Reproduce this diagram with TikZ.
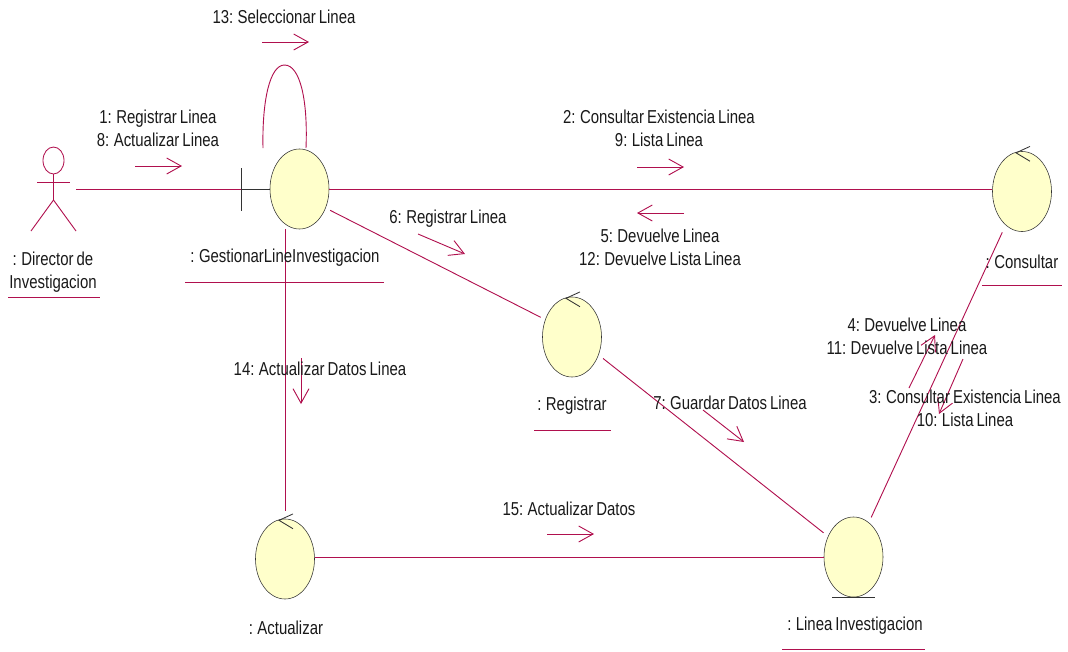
\documentclass[tikz,border=0pt]{standalone}
\usepackage{fontspec}
\setmainfont[FakeStretch=0.8,WordSpace=0.72]{Liberation Sans}
\usetikzlibrary{shapes.geometric,arrows.meta}
\definecolor{umlred}{HTML}{B0104E}
\definecolor{umlfill}{HTML}{FFFFCB}
\newcommand{\CTRLTICK}[1]{
	\coordinate (#1tip) at ([xshift=-.15cm,yshift=-.04cm]#1.north);
	\draw[umlbody] ([xshift=.2cm,yshift=.12cm]#1.north) -- (#1tip) -- ([xshift=.2cm,yshift=-.25cm]#1.north);
}
\newcommand{\MSGARROW}[3]{
	\coordinate (#1from) at #2;
	\coordinate (#1to) at #3;
	\draw[msg arrow] (#1from) -- (#1to);
}
\tikzset{
	umlobject/.style={
		draw=black!80,
		fill=umlfill,
		ellipse,
		inner sep =+ 0pt,
		minimum width = 1.475cm,
		minimum height = 2cm
	},
	umlbody/.style={draw=black!80,line width=.6pt},
	umlline/.style={draw=umlred,line width=.65pt},
	msg arrow/.style={umlline,-{Straight Barb[length=.36cm,width=.4cm,line width=.65pt]}},
	umltext/.style={inner sep=0pt,font=\fontsize{13.3}{16.3}\selectfont,align=center,text=black!90}
}
\begin{document}
\begin{tikzpicture}[x=.025cm,y=-.025cm]
\useasboundingbox (0,0) rectangle (1068,652);

\node[umlobject] (gestion)    at (299.5,189) {};
\node[umlobject] (consultar)  at (1022,191.5) {};
\node[umlobject] (registrar)  at (572,337) {};
\node[umlobject] (actualizar) at (285,559) {};
\node[umlobject] (lineaInv)   at (853.5,557) {};

\CTRLTICK{consultar}
\CTRLTICK{registrar}
\CTRLTICK{actualizar}

% actor
\node[draw=umlred,line width=.6pt,ellipse,inner sep=0pt,minimum width=.525cm,minimum height=.675cm] (director) at (53.5,160.5) {};
\coordinate (directorHip) at (53.5,200);
\coordinate (directorHand) at (76,189);
\draw[umlline] (director.south) -- (directorHip);
\draw[umlline] (37,182) -- (70,182);
\draw[umlline] (31,231) -- (directorHip) -- (76,231);

% boundary and entity marks
\coordinate (gestionTick) at (241,189);
\draw[umlbody] (241,168) -- (241,211);
\draw[umlbody] (gestionTick) -- (gestion.west);
\draw[umlbody] (lineaInv.south west |- lineaInv.south) -- (lineaInv.south east |- lineaInv.south);

\draw[umlline] (directorHand) -- (gestionTick);
\draw[umlline] (gestion.east) -- (gestion.east -| consultar.west);
\draw[umlline,shorten <=3.5pt,shorten >=3.5pt] (gestion.-36) -- (registrar.147);
\draw[umlline,shorten <=4pt,shorten >=4pt] (registrar.-34) -- (lineaInv.141.5);
\draw[umlline,shorten <=4pt,shorten >=5.6pt] (lineaInv.66) -- (consultar.-116.3);
\draw[umlline,shorten >=5.5pt] (actualizar.north |- gestion.south) -- (actualizar.north);
\draw[umlline] (actualizar.east |- lineaInv.west) -- (lineaInv.west);
\draw[umlline] (263,148) .. controls (262,100) and (270,65) .. (284.5,65) .. controls (300,65) and (308,100) .. (306,148);

\MSGARROW{m13}{(262,42)}{(309,42)}
\MSGARROW{m1}{(135,166)}{(182,166)}
\MSGARROW{m2}{(637,167)}{(684,167)}
\MSGARROW{m5}{(684,213)}{(637,213)}
\MSGARROW{m6}{(418,234)}{(465,254)}
\MSGARROW{m14}{(301,358)}{(301,404)}
\MSGARROW{m7}{(703,410)}{(744,442)}
\MSGARROW{m15}{(547,534)}{(594,534)}
\MSGARROW{m4}{(909,388)}{(935,335)}
\MSGARROW{m3}{(963,359)}{(939,414)}

\node[umltext] (l13) at (284,17)    {13: Seleccionar Linea};
\node[umltext] (l1)  at (158,128.5) {1: Registrar Linea\\8: Actualizar Linea};
\node[umltext] (l2)  at (659,128.5) {2: Consultar Existencia Linea\\9: Lista Linea};
\node[umltext] (l5)  at (660,247.5) {5: Devuelve Linea\\12: Devuelve Lista Linea};
\node[umltext] (l6)  at (448,219)   {6: Registrar Linea};
\node[umltext] (l14) at (320,369)   {14: Actualizar Datos Linea};
\node[umltext] (l7)  at (730,403)   {7: Guardar Datos Linea};
\node[umltext] (l15) at (569,509)   {15: Actualizar Datos};
\node[umltext] (l4)  at (907,336)   {4: Devuelve Linea\\11: Devuelve Lista Linea};
\node[umltext] (l3)  at (965,408.5) {3: Consultar Existencia Linea\\10: Lista Linea};

\node[umltext] (nDirector)   at (53,272)   {: Director de\\Investigacion};
\node[umltext] (nGestion)    at (285,258)  {: GestionarLineInvestigacion};
\node[umltext] (nRegistrar)  at (572,406)  {: Registrar};
\node[umltext] (nConsultar)  at (1022,262) {: Consultar};
\node[umltext] (nActualizar) at (286,628)  {: Actualizar};
\node[umltext] (nLinea)      at (855,626)  {: Linea Investigacion};

\draw[umlline] (8,297) -- (100,297);
\draw[umlline] (185,282) -- (384,282);
\draw[umlline] (534,430) -- (611,430);
\draw[umlline] (982,285) -- (1062,285);
\draw[umlline] (782,649) -- (925,649);

\end{tikzpicture}
\end{document}
